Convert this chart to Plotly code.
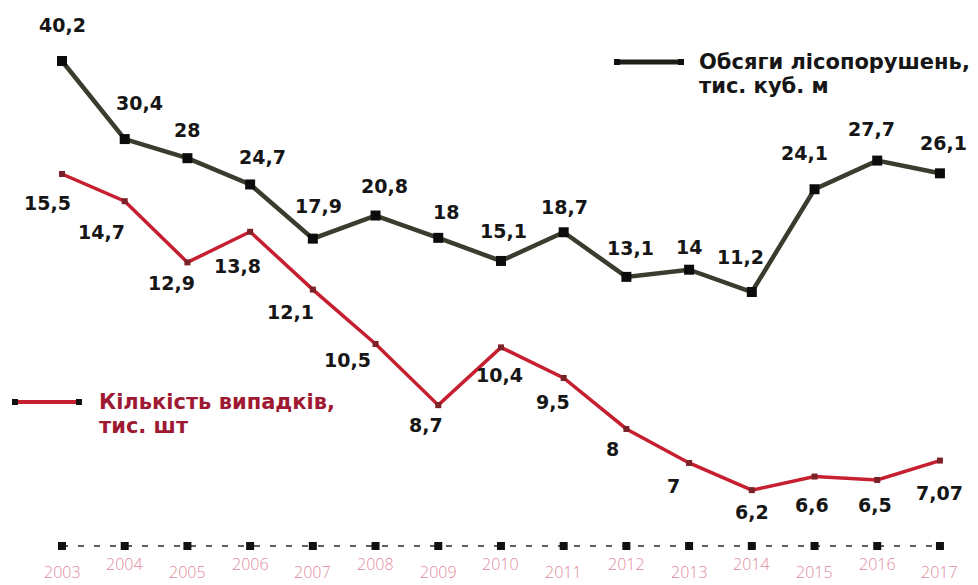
import plotly.graph_objects as go

years = list(range(2003, 2018))
volumes = [40.2, 30.4, 28, 24.7, 17.9, 20.8, 18, 15.1, 18.7, 13.1, 14, 11.2, 24.1, 27.7, 26.1]
cases = [15.5, 14.7, 12.9, 13.8, 12.1, 10.5, 8.7, 10.4, 9.5, 8, 7, 6.2, 6.6, 6.5, 7.07]
volume_labels = ["40,2", "30,4", "28", "24,7", "17,9", "20,8", "18", "15,1", "18,7",
                 "13,1", "14", "11,2", "24,1", "27,7", "26,1"]
case_labels = ["15,5", "14,7", "12,9", "13,8", "12,1", "10,5", "8,7", "10,4", "9,5",
               "8", "7", "6,2", "6,6", "6,5", "7,07"]
year_labels = [str(y) for y in years]
baseline = [0] * len(years)

legend_volume = ["Обсяги лісопорушень,", "тис. куб. м"]
legend_cases = ["Кількість випадків,", "тис. шт"]

# label offsets in pixels (dx right, dy down) relative to the point
vol_off = [(0, -36), (15, -36), (0, -28), (12, -27), (6, -33), (9, -30), (8, -26), (3, -30),
           (1, -25), (4, -29), (0, -23), (-11, -35), (-10, -36), (-6, -32), (4, -30)]
case_off = [(-15, 29), (-23, 31), (-16, 21), (-13, 34), (-22, 22), (-28, 16), (-12, 20), (-1, 28),
            (-11, 24), (-14, 20), (-16, 23), (0, 22), (-3, 28), (-2, 25), (0, 32)]

W, H = 978, 585
GREEN = "#3a3c2e"
RED = "#c61f30"
LABEL_FONT = dict(family="DejaVu Sans", size=19, color="#161616", weight="bold")

fig = go.Figure()

# baseline axis with dashed line and markers
fig.add_trace(go.Scatter(
    x=years, y=baseline, yaxis="y3", mode="lines+markers",
    line=dict(color="#2a2a2a", width=1.5, dash="6px,10px"),
    marker=dict(symbol="square", size=8, color="#111111"),
    hoverinfo="skip", showlegend=False))

fig.add_trace(go.Scatter(
    x=years, y=volumes, yaxis="y", mode="lines+markers",
    line=dict(color=GREEN, width=4.5),
    marker=dict(symbol="square", size=10, color="#0c0c0c"),
    showlegend=False))

fig.add_trace(go.Scatter(
    x=years, y=cases, yaxis="y2", mode="lines+markers",
    line=dict(color=RED, width=3.5),
    marker=dict(symbol="square", size=6, color="#7a2228"),
    showlegend=False))

annotations = []
for x, v, t, (dx, dy) in zip(years, volumes, volume_labels, vol_off):
    annotations.append(dict(x=x, y=v, xref="x", yref="y", text=t, showarrow=False,
                            xshift=dx, yshift=-dy, font=LABEL_FONT))
for x, v, t, (dx, dy) in zip(years, cases, case_labels, case_off):
    annotations.append(dict(x=x, y=v, xref="x", yref="y2", text=t, showarrow=False,
                            xshift=dx, yshift=-dy, font=LABEL_FONT))
for i, (x, t) in enumerate(zip(years, year_labels)):
    annotations.append(dict(x=x, y=0, xref="x", yref="paper", text=t, showarrow=False,
                            yanchor="middle", yshift=(13 if i % 2 == 0 else 21),
                            font=dict(family="Open Sans", size=16, color="#e08a9c", weight=300)))

# legend texts
LEG_DARK = dict(family="DejaVu Sans", size=21, color="#161616", weight="bold")
LEG_RED = dict(family="DejaVu Sans", size=21, color="#9e1a32", weight="bold")
annotations.append(dict(x=697 / W, y=1 - 62 / H, xref="paper", yref="paper", text=legend_volume[0],
                        xanchor="left", yanchor="middle", showarrow=False, font=LEG_DARK))
annotations.append(dict(x=697 / W, y=1 - 86 / H, xref="paper", yref="paper", text=legend_volume[1],
                        xanchor="left", yanchor="middle", showarrow=False, font=LEG_DARK))
annotations.append(dict(x=97 / W, y=1 - 402 / H, xref="paper", yref="paper", text=legend_cases[0],
                        xanchor="left", yanchor="middle", showarrow=False, font=LEG_RED))
annotations.append(dict(x=97 / W, y=1 - 426 / H, xref="paper", yref="paper", text=legend_cases[1],
                        xanchor="left", yanchor="middle", showarrow=False, font=LEG_RED))

shapes = []
def legend_sample(x0, x1, yp, color, width):
    shapes.append(dict(type="line", xref="paper", yref="paper", x0=x0 / W, x1=x1 / W,
                       y0=1 - yp / H, y1=1 - yp / H, line=dict(color=color, width=width)))
    for xx in (x0, x1):
        shapes.append(dict(type="rect", xref="paper", yref="paper",
                           x0=(xx - 3) / W, x1=(xx + 3) / W,
                           y0=1 - (yp + 3) / H, y1=1 - (yp - 3) / H,
                           fillcolor="#111111", line=dict(width=0)))

legend_sample(617, 681, 62, "#1e1f18", 5)
legend_sample(15, 79, 402, RED, 4)

fig.update_layout(
    width=W, height=H, autosize=False,
    margin=dict(l=0, r=0, t=0, b=0),
    paper_bgcolor="white", plot_bgcolor="white",
    xaxis=dict(range=[2002.0113, 2017.6069], visible=False, fixedrange=True),
    yaxis=dict(range=[-25.58, 47.858], visible=False),
    yaxis2=dict(range=[3.41, 20.618], overlaying="y", visible=False),
    yaxis3=dict(range=[-1, 14.0], overlaying="y", visible=False),
    annotations=annotations, shapes=shapes,
    showlegend=False,
)

fig.write_html(
    "out.html",
    config=dict(displayModeBar=False),
    post_script="document.body.style.margin='0';document.body.style.overflow='hidden';",
)
